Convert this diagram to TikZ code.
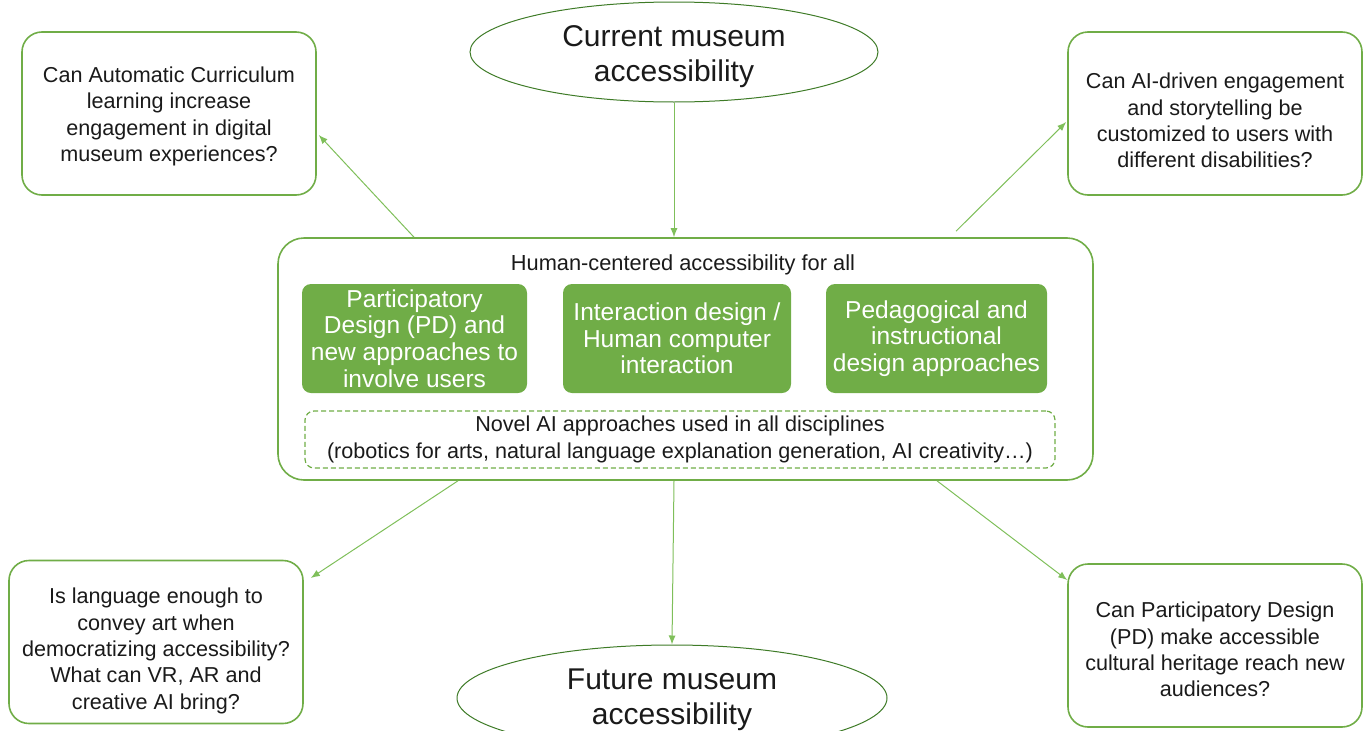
\documentclass[tikz,border=0pt]{standalone}
\usepackage{fontspec}
\setmainfont{Liberation Sans}
\usetikzlibrary{shapes.geometric,arrows.meta}
\definecolor{gborder}{HTML}{70AD47}
\definecolor{gfill}{HTML}{70AD47}
\definecolor{garrow}{HTML}{7FBF5A}
\definecolor{gell}{HTML}{3E7B27}
\definecolor{txt}{HTML}{1A1A1A}
\tikzset{
  qbox/.style={draw=gborder, line width=1.6pt, rounded corners=20pt, fill=white,
    minimum width=294pt, minimum height=163pt, inner sep=0pt},
  qtext/.style={align=center, text=txt, inner sep=0pt,
    font=\fontsize{21.6}{26.3}\selectfont},
  gbox/.style={fill=gfill, rounded corners=9pt, text=white, align=center,
    minimum width=225pt, minimum height=109pt, inner sep=0pt,
    font=\fontsize{24.5}{26.6}\selectfont},
  ell/.style={ellipse, draw=gell, line width=1pt, inner sep=0pt},
  elltext/.style={text=txt, align=center, font=\fontsize{30}{35}\selectfont},
  arr/.style={draw=garrow, line width=1pt, -{Latex[length=9pt,width=7pt]}},
}
\begin{document}
\begin{tikzpicture}[x=1pt,y=-1pt]
\useasboundingbox (0,0) rectangle (1363,731);
% ellipses
\node[ell, minimum width=408pt, minimum height=100pt] (cur) at (674,52) {};
\node[elltext] (curt) at (674,57) {Current museum\\accessibility};
\node[ell, minimum width=430pt, minimum height=106pt] (fut) at (672,698) {};
\node[elltext] (futt) at (672,699.5) {Future museum\\accessibility};
% central box
\node[draw=gborder, line width=1.6pt, rounded corners=26pt, minimum width=815pt, minimum height=242pt, inner sep=0pt] (c) at (685.5,359) {};
\node[text=txt, font=\fontsize{21.8}{26}\selectfont] (ctitle) at (683,265) {Human-centered accessibility for all};
\node[gbox] (g1) at (414.5,338.5) {Participatory\\Design (PD) and\\new approaches to\\involve users};
\node[gbox, minimum width=228pt] (g2) at (677,338.5) {Interaction design /\\Human computer\\interaction};
\node[gbox, minimum width=221pt] (g3) at (936.5,338.5) {Pedagogical and\\instructional\\design approaches};
\node[draw=gborder, line width=1.2pt, dashed, dash pattern=on 5pt off 3pt, rounded corners=9pt,
  minimum width=750pt, minimum height=57pt, inner sep=0pt, align=center, text=txt,
  font=\fontsize{21.6}{27}\selectfont] (nov) at (680,439.5)
  {Novel AI approaches used in all disciplines\\(robotics for arts, natural language explanation generation, AI creativity\ldots)};
% question boxes
\node[qbox] (q1) at (169,113.5) {};
\node[qtext] (q1t) at ([yshift=-3pt]q1.center) {Can Automatic Curriculum\\learning increase\\engagement in digital\\museum experiences?};
\node[qbox] (q2) at (1215,113.5) {};
\node[qtext] (q2t) at ([yshift=-7pt]q2.center) {Can AI-driven engagement\\and storytelling be\\customized to users with\\different disabilities?};
\node[qbox] (q3) at (156,642) {};
\node[qtext] (q3t) at ([yshift=-9pt]q3.center) {Is language enough to\\convey art when\\democratizing accessibility?\\What can VR, AR and\\creative AI bring?};
\node[qbox] (q4) at (1215,645.5) {};
\node[qtext] (q4t) at ([yshift=-4pt]q4.center) {Can Participatory Design\\(PD) make accessible\\cultural heritage reach new\\audiences?};
% arrows
\draw[arr] (cur.south) -- (cur.south |- c.north);
\draw[arr] (cur.south |- c.south) -- (fut.north);
\draw[arr] ([xshift=-271.5pt]c.north) -- ([xshift=2pt,yshift=-21.5pt]q1.east);
\draw[arr] ([xshift=270.5pt,yshift=6pt]c.north) -- ([xshift=-1pt,yshift=-8.5pt]q2.west);
\draw[arr] ([xshift=-227.5pt]c.south) -- ([xshift=7pt,yshift=64pt]q3.east);
\draw[arr] ([xshift=251.5pt]c.south) -- ([yshift=65.5pt]q4.west);
\end{tikzpicture}
\end{document}
